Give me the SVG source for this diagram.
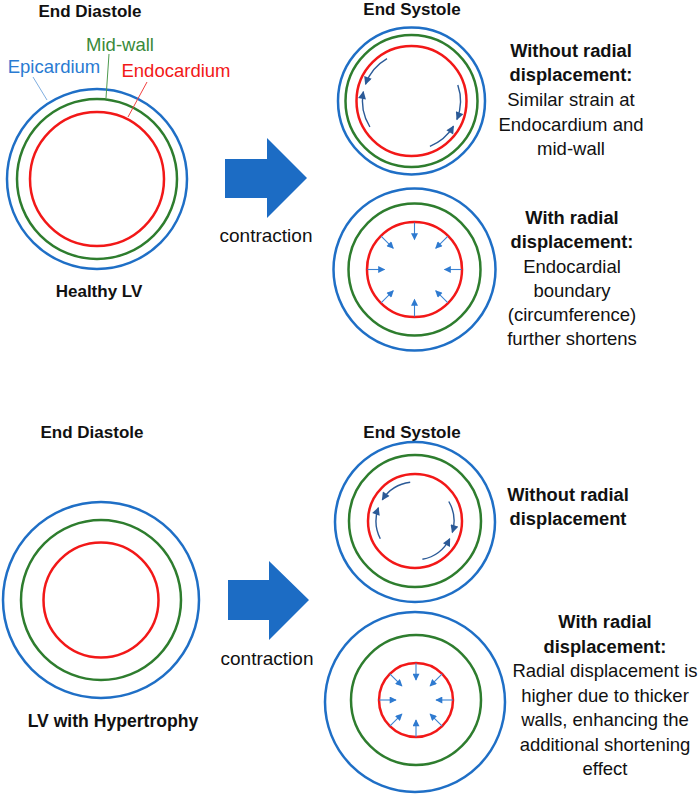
<svg xmlns="http://www.w3.org/2000/svg" width="699" height="794" viewBox="0 0 699 794">
<style>
.epi{fill:none;stroke:#1F6FC6;stroke-width:2.5}
.mid{fill:none;stroke:#2E7D2E;stroke-width:2.5}
.endo{fill:none;stroke:#F21818;stroke-width:2.5}
.t{font-family:"Liberation Sans",Arial,sans-serif;fill:#111;text-anchor:middle}
.b{font-weight:bold;font-size:18.3px}
.h{font-weight:bold;font-size:17px}
.r{font-size:18.5px}
.curv{fill:none;stroke:#2B5A97;stroke-width:1.4;marker-end:url(#ch)}
.rad{fill:none;stroke:#3A82D2;stroke-width:1.1;marker-end:url(#rh)}
.big{fill:#1C6CC4}
</style>
<defs>
<marker id="ch" viewBox="0 0 10 10" refX="9" refY="5" markerWidth="9" markerHeight="8" markerUnits="userSpaceOnUse" orient="auto"><path d="M0,0 L10,5 L0,10 Z" fill="#2B5A97"/></marker>
<marker id="rh" viewBox="0 0 10 10" refX="9" refY="5" markerWidth="8" markerHeight="7" markerUnits="userSpaceOnUse" orient="auto"><path d="M0,0 L10,5 L0,10 Z" fill="#2E7AD0"/></marker>
</defs>
<rect width="699" height="794" fill="#fff"/>

<g id="healthy-diastole">
<text class="t h" x="90" y="17">End Diastole</text>
<circle class="epi" cx="97" cy="179" r="90"/>
<circle class="mid" cx="97" cy="179" r="80"/>
<circle class="endo" cx="97" cy="179" r="67"/>
<text class="t r" x="54" y="73" fill="#2A7BD2" style="fill:#2A7BD2">Epicardium</text>
<text class="t r" x="120" y="51" style="fill:#3A8A3A">Mid-wall</text>
<text class="t r" x="176" y="77" style="fill:#F21818">Endocardium</text>
<line x1="33" y1="77" x2="47" y2="100" stroke="#7FAEE0" stroke-width="1"/>
<line x1="109" y1="54" x2="106" y2="98" stroke="#4E9A4E" stroke-width="1"/>
<line x1="147" y1="82" x2="128" y2="117" stroke="#F24040" stroke-width="1"/>
<text class="t h" x="99" y="297">Healthy LV</text>
</g>

<g id="healthy-systole-no-radial">
<text class="t h" x="412" y="15">End Systole</text>
<circle class="epi" cx="411.5" cy="101" r="73.5"/>
<circle class="mid" cx="411.5" cy="101" r="66"/>
<circle class="endo" cx="411.5" cy="101" r="55"/>
<path class="curv" d="M387,58.6 A49,49 0 0 0 365.5,84.2"/>
<path class="curv" d="M369.9,127 A49,49 0 0 1 363.4,91.7"/>
<path class="curv" d="M457.8,85 A49,49 0 0 1 456.9,119.4"/>
<path class="curv" d="M429.9,146.4 A49,49 0 0 0 453.5,126.2"/>
<text class="t b" x="571" y="57">Without radial</text>
<text class="t b" x="571" y="81">displacement:</text>
<text class="t r" x="571" y="106">Similar strain at</text>
<text class="t r" x="571" y="131">Endocardium and</text>
<text class="t r" x="571" y="155">mid-wall</text>
</g>

<g id="healthy-systole-radial">
<circle class="epi" cx="414.5" cy="269.5" r="81"/>
<circle class="mid" cx="414.5" cy="269.5" r="66"/>
<circle class="endo" cx="414.5" cy="269.5" r="47.5"/>
<path class="rad" d="M461.5,269.5 L444.5,269.5"/>
<path class="rad" d="M447.7,302.7 L435.7,290.7"/>
<path class="rad" d="M414.5,316.5 L414.5,299.5"/>
<path class="rad" d="M381.3,302.7 L393.3,290.7"/>
<path class="rad" d="M367.5,269.5 L384.5,269.5"/>
<path class="rad" d="M381.3,236.3 L393.3,248.3"/>
<path class="rad" d="M414.5,222.5 L414.5,239.5"/>
<path class="rad" d="M447.7,236.3 L435.7,248.3"/>
<text class="t b" x="572" y="224">With radial</text>
<text class="t b" x="572" y="248">displacement:</text>
<text class="t r" x="572" y="273">Endocardial</text>
<text class="t r" x="572" y="297">boundary</text>
<text class="t r" x="572" y="321">(circumference)</text>
<text class="t r" x="572" y="345">further shortens</text>
</g>

<g id="hypertrophy-diastole">
<text class="t h" x="92" y="438">End Diastole</text>
<circle class="epi" cx="101" cy="600" r="98"/>
<circle class="mid" cx="101" cy="600" r="80"/>
<circle class="endo" cx="101" cy="600" r="57.5"/>
<text class="t h" x="113" y="727" style="font-size:17.6px">LV with Hypertrophy</text>
</g>

<g id="hypertrophy-systole-no-radial">
<text class="t h" x="412" y="438">End Systole</text>
<circle class="epi" cx="415" cy="522" r="80"/>
<circle class="mid" cx="415" cy="521" r="66"/>
<circle class="endo" cx="415" cy="521" r="47"/>
<path class="curv" d="M410.2,482.3 A39,39 0 0 0 382.3,499.8"/>
<path class="curv" d="M380.3,538.7 A39,39 0 0 1 378.4,507.7"/>
<path class="curv" d="M448.8,501.5 A39,39 0 0 1 452.3,532.4"/>
<path class="curv" d="M422.4,559.3 A39,39 0 0 0 449.7,538.7"/>
<text class="t b" x="568" y="501">Without radial</text>
<text class="t b" x="568" y="525">displacement</text>
</g>

<g id="hypertrophy-systole-radial">
<circle class="epi" cx="415" cy="702" r="90"/>
<circle class="mid" cx="416" cy="700" r="65"/>
<circle class="endo" cx="416" cy="700" r="37"/>
<path class="rad" d="M453,700 L436,700"/>
<path class="rad" d="M442.2,726.2 L430.1,714.1"/>
<path class="rad" d="M416,737 L416,720"/>
<path class="rad" d="M389.8,726.2 L401.9,714.1"/>
<path class="rad" d="M379,700 L396,700"/>
<path class="rad" d="M389.8,673.8 L401.9,685.9"/>
<path class="rad" d="M416,663 L416,680"/>
<path class="rad" d="M442.2,673.8 L430.1,685.9"/>
<text class="t b" x="605" y="628">With radial</text>
<text class="t b" x="605" y="653">displacement:</text>
<text class="t r" x="605" y="677">Radial displacement is</text>
<text class="t r" x="605" y="702">higher due to thicker</text>
<text class="t r" x="605" y="726">walls, enhancing the</text>
<text class="t r" x="605" y="751">additional shortening</text>
<text class="t r" x="605" y="775">effect</text>
</g>

<g id="connectors">
<polygon class="big" points="225,159 267,159 267,138 307,178 267,218 267,198 225,198"/>
<text class="t r" x="266" y="242" style="font-size:19px">contraction</text>
<polygon class="big" points="228,580 269,580 269,561 309,600 269,640 269,620 228,620"/>
<text class="t r" x="267" y="665" style="font-size:19px">contraction</text>
</g>
</svg>
